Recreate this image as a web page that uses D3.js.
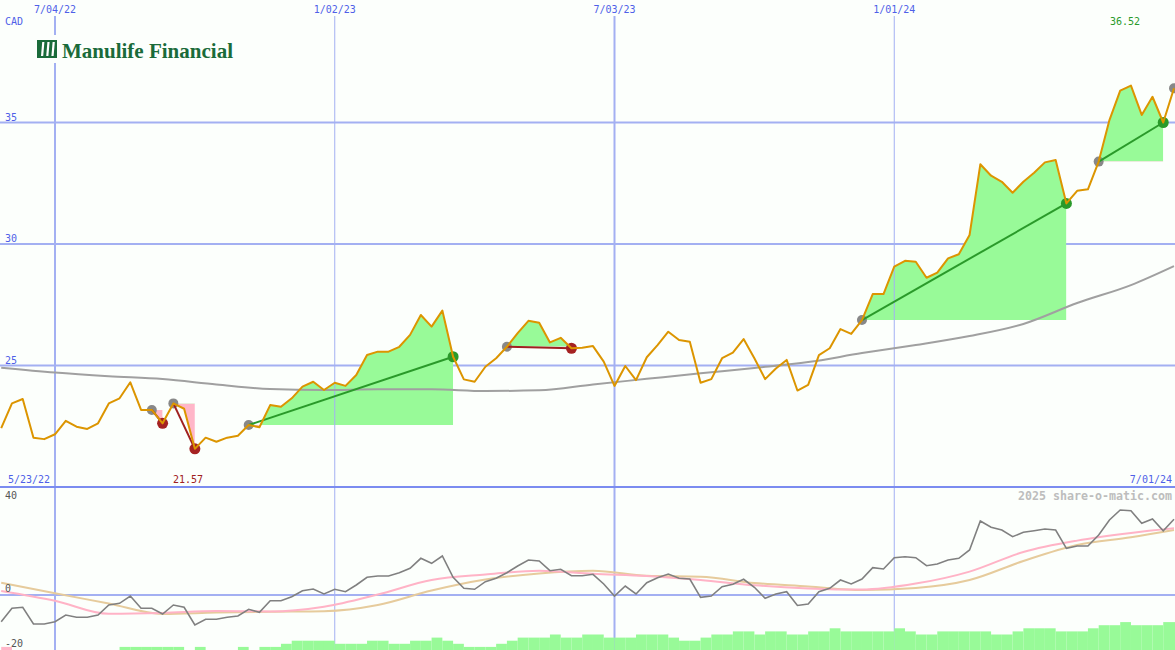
<!DOCTYPE html>
<html><head><meta charset="utf-8">
<script src="https://cdn.jsdelivr.net/npm/d3@7"></script>
<style>html,body{margin:0;padding:0;background:#fcfffc;} svg{display:block;}</style>
</head><body><svg id="c" width="1175" height="650"></svg>
<script>
// ---------- data ----------
const startDate = "2022-05-30", endDate = "2024-07-01"; // weekly (Mondays)
const price = [22.42,23.44,23.62,22.03,21.97,
 22.17,22.72,22.48,22.39,22.62,23.44,23.65,24.31,23.17,23.17,
 22.62,23.44,23.22,21.57,22.03,21.86,22.03,22.11,22.55,22.46,
 23.37,23.30,23.65,24.13,24.33,23.99,24.29,24.16,24.61,25.43,
 25.57,25.57,25.77,26.26,27.08,26.60,27.26,25.36,24.43,24.33,
 24.95,25.30,25.77,26.33,26.84,26.76,25.95,26.14,25.71,25.73,
 25.80,25.16,24.16,24.98,24.40,25.34,25.84,26.39,26.05,25.98,
 24.29,24.44,25.30,25.53,26.09,25.30,24.44,24.88,25.23,23.97,
 24.20,25.43,25.71,26.50,26.30,26.87,27.94,27.94,29.07,29.31,
 29.27,28.61,28.82,29.41,29.58,30.37,33.28,32.81,32.56,32.11,
 32.56,32.93,33.36,33.46,31.67,32.19,32.25,33.39,35.10,36.31,
 36.52,35.31,36.06,35.00,36.41];
const osc = [-10.9,-5.43,-5.02,-11.84,-11.84,
 -10.9,-8.16,-9.10,-9.10,-8.16,-4.08,-3.39,-0.41,-5.43,-5.43,
 -7.76,-4.08,-5.02,-12.24,-9.92,-9.92,-9.10,-8.57,-5.84,-7.06,
 -2.33,-2.33,-0.69,1.76,2.45,0.41,2.33,1.35,4.08,7.22,
 7.76,7.76,9.10,10.9,14.98,12.94,15.92,7.22,2.73,2.33,
 5.43,6.82,9.10,11.84,14.29,13.88,9.92,10.49,7.88,7.88,
 8.45,4.49,-0.41,3.67,0.41,5.02,7.06,8.57,6.82,6.53,
 -0.94,-0.41,3.39,4.37,6.41,3.14,-1.35,0.41,1.35,-4.29,
 -3.67,1.35,2.73,6.12,4.49,6.53,11.14,10.61,15.22,15.63,
 15.22,11.96,12.65,14.29,14.98,18.37,30.2,27.63,26.53,23.8,
 25.59,26.24,26.94,26.53,19.06,20.0,20.0,24.49,30.61,34.69,
 34.41,29.27,31.02,26.24,30.9];
const volume = [-1,0,0,0,0,
 0,0,0,0,0,0,1,1,1,1,
 1,1,0,1,0,0,0,1,0,1,
 1,2,3,3,3,3,2,2,2,3,
 3,2,2,3,3,4,3,2,1,1,
 1,2,3,4,4,4,5,4,4,5,
 5,4,4,4,5,5,5,4,3,3,
 4,5,5,6,6,5,6,6,5,5,
 6,6,7,6,6,6,6,6,7,6,
 5,5,6,6,6,6,6,5,5,6,
 7,7,7,6,6,6,7,8,8,9,
 8,8,8,9,9];
// moving averages, read every 5th week plus last week
const ma40 = [24.91,24.71,24.56,24.44,24.22,24.03,23.99,24.02,24.02,23.95,23.98,24.22,24.45,24.68,24.9,25.14,25.51,25.84,26.21,26.71,27.57,28.31,29.09];
const oscFast = [1.67,-2.33,-7.67,-7.35,-6.53,-6.73,-4.78,0.2,6.12,8.37,9.92,8.69,7.76,6.12,3.96,2.69,2.2,4.65,9.55,17.55,22.2,25.3,27.2];
const oscSlow = [5.02,0.69,-3.47,-7.76,-7.14,-6.82,-6.61,-4.08,1.84,6.33,8.82,9.88,7.84,7.47,4.9,3.51,2.0,2.86,6.12,13.88,20.4,23.55,26.53];
const tickDates = ["2022-07-04","2023-01-02","2023-07-03","2024-01-01"];
const priceTicks = [25,30,35];
const oscTicks = [40,0,-20];
const signals = [
 {from:"2022-09-05", to:"2022-09-12"},
 {from:"2022-09-19", to:"2022-10-03"},
 {from:"2022-11-07", to:"2023-03-20"},
 {from:"2023-04-24", to:"2023-06-05"},
 {from:"2023-12-11", to:"2024-04-22"},
 {from:"2024-05-13", to:"2024-06-24"},
 {from:"2024-07-01", to:null}
];
const highLabel = "36.52", lowLabel = "21.57";

// ---------- setup ----------
const W=1175, H=650, MAINB=487;
const svg = d3.select("#c");
const dates = d3.utcMonday.range(new Date(startDate), d3.utcDay.offset(new Date(endDate),1));
const maDates = dates.filter((d,i)=> i%5===0 || i===dates.length-1);
const x = d3.scaleUtc().domain([new Date("2022-07-04"), new Date("2024-07-01")]).range([55,1174]);
const y = d3.scaleLinear().domain([20,40]).range([MAINB,1]);
const yo = d3.scaleLinear().domain([0,40]).range([595,595-40*2.45]);
const yv = d3.scaleLinear().domain([0,10]).range([650,619]);
const fmt = d3.utcFormat("%-m/%d/%y");
const BLUE_T="#4f5fe8", GRID="#a3b0f2", SEP="#7b8cf0";
const mono="'DejaVu Sans Mono', monospace";

const pts = dates.map((d,i)=>({date:d, v:price[i], o:osc[i], vol:volume[i]}));
const idx = s => dates.findIndex(d=>+d===+new Date(s));

svg.append("rect").attr("width",W).attr("height",H).attr("fill","#fcfffc");
const defs = svg.append("defs");
defs.append("clipPath").attr("id","mainClip").append("rect").attr("x",0).attr("y",0).attr("width",W).attr("height",MAINB);
defs.append("clipPath").attr("id","lowClip").append("rect").attr("x",0).attr("y",MAINB+1).attr("width",W).attr("height",H-MAINB);

// horizontal grid (under fills)
svg.append("g").selectAll("line").data(priceTicks).join("line")
  .attr("x1",0).attr("x2",W).attr("y1",d=>y(d)).attr("y2",d=>y(d))
  .attr("stroke",GRID).attr("stroke-width",2);
svg.append("g").selectAll("line").data([0]).join("line")
  .attr("x1",0).attr("x2",W).attr("y1",d=>yo(d)).attr("y2",d=>yo(d))
  .attr("stroke",GRID).attr("stroke-width",2);

// ---------- main panel ----------
const main = svg.append("g").attr("clip-path","url(#mainClip)");
const fillG = main.append("g");
signals.forEach((s,si)=>{
  if(!s.to) return;
  const i0=idx(s.from), i1=idx(s.to);
  const seg = pts.slice(i0,i1+1);
  const base = price[i0];
  const x0=x(dates[i0]), x1=x(dates[i1]);
  const area = d3.area().x(d=>x(d.date)).y0(y(base)).y1(d=>y(d.v));
  defs.append("clipPath").attr("id","up"+si).append("rect").attr("x",x0).attr("width",x1-x0).attr("y",0).attr("height",y(base));
  defs.append("clipPath").attr("id","dn"+si).append("rect").attr("x",x0).attr("width",x1-x0).attr("y",y(base)).attr("height",MAINB-y(base));
  fillG.append("path").datum(seg).attr("d",area).attr("fill","#98fa98").attr("clip-path",`url(#up${si})`);
  fillG.append("path").datum(seg).attr("d",area).attr("fill","#ffb6c8").attr("clip-path",`url(#dn${si})`);
});

// vertical grid (over fills)
const vw=[2,1,2,1];
svg.append("g").selectAll("line").data(tickDates).join("line")
  .attr("x1",d=>x(new Date(d))).attr("x2",d=>x(new Date(d))).attr("y1",16).attr("y2",H)
  .attr("stroke",GRID).attr("stroke-width",(d,i)=>vw[i]);
svg.append("line").attr("x1",0).attr("x2",W).attr("y1",MAINB).attr("y2",MAINB).attr("stroke",SEP).attr("stroke-width",2);

const main2 = svg.append("g").attr("clip-path","url(#mainClip)");
main2.append("path").datum(maDates.map((d,i)=>({date:d,v:ma40[i]})))
  .attr("d",d3.line().x(d=>x(d.date)).y(d=>y(d.v)).curve(d3.curveMonotoneX))
  .attr("fill","none").attr("stroke","#a0a0a0").attr("stroke-width",2);

const dotG = main2.append("g");
signals.forEach(s=>{
  const i0=idx(s.from);
  if(s.to){
    const i1=idx(s.to);
    const up = price[i1]>price[i0];
    main2.append("line").attr("x1",x(dates[i0])).attr("y1",y(price[i0])).attr("x2",x(dates[i1])).attr("y2",y(price[i1]))
      .attr("stroke",up?"#2a9a2a":"#a02020").attr("stroke-width",2);
    dotG.append("circle").attr("cx",x(dates[i1])).attr("cy",y(price[i1])).attr("r",5.5).attr("fill",up?"#2a9a2a":"#a52222");
  }
  dotG.append("circle").attr("cx",x(dates[i0])).attr("cy",y(price[i0])).attr("r",5).attr("fill","#888888");
});

main2.append("path").datum(pts)
  .attr("d",d3.line().x(d=>x(d.date)).y(d=>y(d.v)))
  .attr("fill","none").attr("stroke","#dc9500").attr("stroke-width",2).attr("stroke-linejoin","round");

// ---------- lower panel ----------
const low = svg.append("g").attr("clip-path","url(#lowClip)");
low.append("g").selectAll("rect").data(pts.filter((d,i)=>d.vol!==0 && i<pts.length-1)).join("rect")
  .attr("x",d=>x(d.date)).attr("width",d=>x(d3.utcDay.offset(d.date,7))-x(d.date))
  .attr("y",d=>yv(Math.abs(d.vol))).attr("height",d=>yv(0)-yv(Math.abs(d.vol)))
  .attr("fill",d=>d.vol>0?"#98fa98":"#ffb6c8");
const pl = pts[pts.length-1];
low.append("rect").attr("x",x(pl.date)).attr("width",12).attr("y",yv(pl.vol)).attr("height",yv(0)-yv(pl.vol)).attr("fill","#98fa98");

const lineO = d3.line().x(d=>x(d.date)).y(d=>yo(d.v)).curve(d3.curveMonotoneX);
low.append("path").datum(maDates.map((d,i)=>({date:d,v:oscSlow[i]}))).attr("d",lineO)
  .attr("fill","none").attr("stroke","#e6cb9c").attr("stroke-width",2);
low.append("path").datum(maDates.map((d,i)=>({date:d,v:oscFast[i]}))).attr("d",lineO)
  .attr("fill","none").attr("stroke","#ffb3c6").attr("stroke-width",2);
low.append("path").datum(pts).attr("d",d3.line().x(d=>x(d.date)).y(d=>yo(d.o)))
  .attr("fill","none").attr("stroke","#808080").attr("stroke-width",1.6);

// ---------- logo ----------
const logo = svg.append("g");
logo.append("rect").attr("x",34).attr("y",35).attr("width",202).attr("height",28).attr("fill","#fcfffc");
logo.append("rect").attr("x",37).attr("y",40).attr("width",20).attr("height",18).attr("fill","#1a6b3a");
[0,1,2].forEach(j=>{
  const bx=41+j*5.2;
  logo.append("path").attr("d",`M${bx+1.2},42 L${bx+3.4},42 L${bx+2.2},56 L${bx},56 Z`).attr("fill","#ffffff");
});
logo.append("text").attr("x",62).attr("y",58).text("Manulife Financial")
  .attr("font-family","'Liberation Serif', serif").attr("font-weight","bold").attr("font-size",21)
  .attr("fill","#1a6b3a").attr("textLength",171).attr("lengthAdjust","spacingAndGlyphs");

// ---------- text ----------
const T = svg.append("g").attr("font-family",mono).attr("font-size",10);
T.selectAll("text.top").data(tickDates).join("text").attr("class","top")
  .attr("x",d=>x(new Date(d))).attr("y",13).attr("text-anchor","middle").attr("fill",BLUE_T).text(d=>fmt(new Date(d)));
T.append("text").attr("x",5).attr("y",25).attr("fill",BLUE_T).text("CAD");
T.selectAll("text.py").data(priceTicks).join("text").attr("class","py")
  .attr("x",5).attr("y",d=>y(d)-2).attr("fill",BLUE_T).text(d=>d);
T.append("text").attr("x",8).attr("y",483).attr("fill",BLUE_T).text(fmt(dates[0]).replace("5/30","5/23"));
T.append("text").attr("x",1172).attr("y",483).attr("text-anchor","end").attr("fill",BLUE_T).text(fmt(dates[dates.length-1]));
T.append("text").attr("x",1110).attr("y",25).attr("fill","#2a9a2a").text(highLabel);
T.append("text").attr("x",173).attr("y",483).attr("fill","#a02020").text(lowLabel);
const oy = {"40":499,"0":592,"-20":646.5};
T.selectAll("text.oy").data(oscTicks).join("text").attr("class","oy")
  .attr("x",5).attr("y",d=>oy[String(d)]).attr("fill","#555555").text(d=>d);
T.append("text").attr("x",1018).attr("y",500).attr("font-size",11.5).attr("font-weight","bold")
  .attr("fill","#bdbdbd").attr("textLength",154).attr("lengthAdjust","spacingAndGlyphs").text("2025 share-o-matic.com");
</script></body></html>
